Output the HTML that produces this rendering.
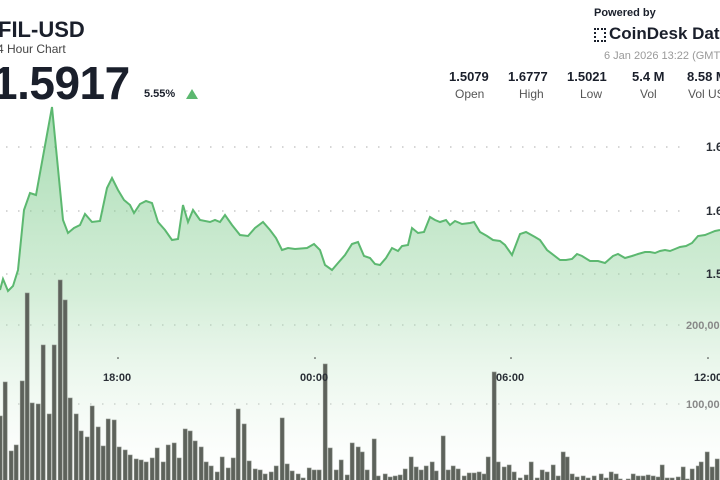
<!DOCTYPE html>
<html><head><meta charset="utf-8"><style>
html,body{margin:0;padding:0;background:#fff;width:720px;height:480px;overflow:hidden;font-family:"Liberation Sans",sans-serif}
.t{position:absolute;color:#1a1f2b}
</style></head><body>
<svg id="s" width="720" height="480" style="position:absolute;left:0;top:0">
<defs><linearGradient id="g" x1="0" y1="0" x2="0" y2="1">
<stop offset="0" stop-color="#6cc47f" stop-opacity="0.6"/>
<stop offset="0.5" stop-color="#9fd8a8" stop-opacity="0.45"/>
<stop offset="1" stop-color="#ffffff" stop-opacity="0.2"/></linearGradient></defs>
<g id="grid" stroke="#c8c8c8" stroke-width="1.5" stroke-dasharray="1.5 10.5">
<line x1="6" y1="147" x2="690" y2="147"/><line x1="6" y1="211" x2="690" y2="211"/>
<line x1="6" y1="274" x2="690" y2="274"/><line x1="6" y1="325" x2="680" y2="325"/>
<line x1="6" y1="404" x2="680" y2="404"/></g>
<path id="area" fill="url(#g)"/>
<g id="bars" fill="#5d625b" stroke="#8e948c" stroke-width="0.6"></g>
<polyline id="line" fill="none" stroke="#5cb870" stroke-width="2"/>
<g fill="#333"><circle cx="118" cy="358" r="0.8"/><circle cx="315" cy="358" r="0.8"/><circle cx="511" cy="358" r="0.8"/><circle cx="708" cy="358" r="0.8"/></g>
<g font-family="Liberation Sans,sans-serif" font-weight="bold" font-size="11" fill="#2a2f36">
<text x="103" y="381">18:00</text><text x="300" y="381">00:00</text><text x="496" y="381">06:00</text><text x="694" y="381">12:00</text>
<text x="706" y="151" font-size="12">1.6</text><text x="706" y="215" font-size="12">1.6</text><text x="706" y="278" font-size="12">1.5</text>
<text x="686" y="329" fill="#888" font-size="11">200,00</text><text x="686" y="408" fill="#888" font-size="11">100,00</text></g>
</svg>
<div class="t" style="left:-2px;top:17px;font-size:22px;font-weight:bold">FIL-USD</div>
<div class="t" style="left:-3px;top:42px;font-size:12px;color:#444">4 Hour Chart</div>
<div class="t" style="left:-8px;top:56px;font-size:46px;font-weight:bold;letter-spacing:-0.5px">1.5917</div>
<div class="t" style="left:144px;top:88px;font-size:11px;font-weight:bold">5.55%</div>
<div style="position:absolute;left:186px;top:89px;width:0;height:0;border-left:6px solid transparent;border-right:6px solid transparent;border-bottom:10px solid #5cb870"></div>
<div class="t" style="left:594px;top:7px;font-size:11px;font-weight:bold">Powered by</div>
<div style="position:absolute;left:594px;top:28px;width:12px;height:14px;border:2px dotted #1a1f2b;box-sizing:border-box"></div>
<div class="t" style="left:609px;top:24px;font-size:17px;font-weight:bold;white-space:nowrap">CoinDesk Data</div>
<div class="t" style="left:604px;top:50px;font-size:11px;color:#999;white-space:nowrap">6 Jan 2026 13:22 (GMT)</div>
<div class="t" style="left:449px;top:69px;font-size:13px;font-weight:bold">1.5079</div>
<div class="t" style="left:455px;top:87px;font-size:12px;color:#555">Open</div>
<div class="t" style="left:508px;top:69px;font-size:13px;font-weight:bold">1.6777</div>
<div class="t" style="left:519px;top:87px;font-size:12px;color:#555">High</div>
<div class="t" style="left:567px;top:69px;font-size:13px;font-weight:bold">1.5021</div>
<div class="t" style="left:580px;top:87px;font-size:12px;color:#555">Low</div>
<div class="t" style="left:632px;top:69px;font-size:13px;font-weight:bold">5.4 M</div>
<div class="t" style="left:640px;top:87px;font-size:12px;color:#555">Vol</div>
<div class="t" style="left:687px;top:69px;font-size:13px;font-weight:bold;white-space:nowrap">8.58 M</div>
<div class="t" style="left:688px;top:87px;font-size:12px;color:#555;white-space:nowrap">Vol USD</div>
<script>
var P=[[0,290],[3,279],[8,291],[13,286],[18,270],[24,210],[30,193],[36,195],[52,107],[63,220],[68,233],[74,228],[80,225],[85,214],[92,222],[100,221],[107,188],[112,178],[118,190],[124,200],[130,205],[134,213],[140,204],[146,201],[152,203],[158,222],[165,230],[172,240],[178,239],[183,205],[188,222],[193,210],[200,220],[210,222],[215,220],[220,222],[225,215],[232,225],[240,235],[248,236],[255,228],[263,222],[270,230],[276,238],[282,250],[288,248],[295,249],[307,248],[314,244],[320,250],[325,265],[332,270],[338,263],[345,255],[352,244],[358,242],[364,256],[370,258],[375,264],[380,265],[386,258],[392,248],[398,251],[402,246],[408,245],[412,228],[418,233],[424,232],[430,217],[435,220],[440,222],[446,220],[450,225],[455,221],[462,224],[470,223],[474,222],[480,232],[487,236],[493,240],[500,241],[505,245],[512,255],[520,234],[526,232],[535,237],[540,240],[547,250],[560,260],[566,260],[572,259],[577,254],[582,256],[590,261],[598,261],[605,263],[613,256],[618,254],[625,258],[632,256],[638,254],[645,252],[650,252],[655,253],[660,251],[665,250],[670,251],[675,249],[680,247],[686,246],[692,243],[698,236],[705,235],[710,233],[715,231],[720,230]];
var s=P.map(function(p){return p[0]+","+p[1]}).join(" ");
document.getElementById("line").setAttribute("points",s);
document.getElementById("area").setAttribute("d","M"+s.replace(/ /g," L")+" L720,480 L0,480 Z");
var B=[[0,416],[5,382],[11,451],[16,445],[22,381],[27,293],[32,403],[38,404],[43,345],[49,414],[54,345],[60,280],[65,300],[70,398],[76,414],[81,431],[87,437],[92,406],[98,427],[103,446],[108,419],[114,420],[119,447],[125,450],[130,455],[136,459],[141,460],[146,462],[152,458],[157,448],[163,462],[168,445],[174,443],[179,458],[185,429],[190,431],[195,441],[201,447],[206,462],[211,466],[217,472],[222,457],[228,468],[233,458],[238,409],[244,424],[249,461],[255,469],[260,470],[265,474],[271,472],[276,466],[282,418],[287,464],[292,471],[298,474],[303,478],[309,468],[314,470],[319,470],[325,364],[330,448],[336,470],[341,460],[347,475],[352,443],[358,447],[362,452],[367,470],[374,439],[378,476],[385,474],[390,477],[395,476],[400,475],[405,469],[411,457],[416,467],[421,470],[426,466],[432,462],[436,471],[443,436],[448,470],[453,466],[458,469],[464,476],[469,473],[474,473],[479,472],[484,474],[488,457],[494,372],[498,462],[504,467],[509,465],[514,472],[520,478],[526,475],[531,462],[537,478],[542,470],[547,472],[553,465],[558,476],[563,452],[567,457],[572,474],[577,477],[583,476],[588,478],[594,476],[601,474],[606,478],[611,472],[616,474],[620,479],[628,479],[633,474],[638,476],[643,476],[648,475],[653,476],[658,477],[662,465],[667,478],[672,478],[678,477],[683,467],[687,479],[692,469],[698,466],[701,462],[707,452],[712,467],[717,459]];
var g=document.getElementById("bars"),h="";
B.forEach(function(b){h+='<rect x="'+(b[0]-1.8)+'" y="'+b[1]+'" width="4" height="'+(481-b[1])+'"/>';});
g.innerHTML=h;
</script>
</body></html>
